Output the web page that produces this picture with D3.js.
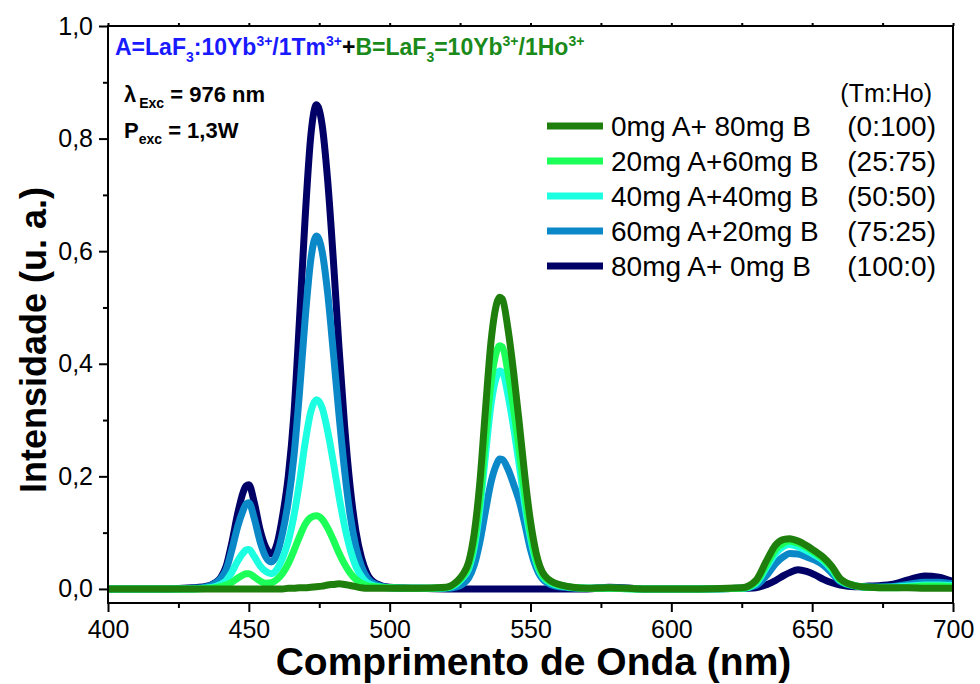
<!DOCTYPE html>
<html lang="pt">
<head>
<meta charset="UTF-8">
<title>Espectro de emissão</title>
<style>
  body { margin: 0; background: #fff; }
  svg { display: block; font-family: "Liberation Sans", Arial, sans-serif; }
</style>
</head>
<body>
<script src="https://cdn.jsdelivr.net/npm/d3@7"></script>
<svg id="chart" width="980" height="684"></svg>
<script>
// wavelength grid (nm) shared by every spectrum
const wavelengths = [
  400, 420, 430, 436, 438, 440, 442, 444, 446, 448,
  449, 450, 452, 454, 456, 458, 460, 462, 464, 466,
  468, 470, 472, 474, 476, 478, 480, 482, 484, 486,
  488, 490, 492, 495, 500, 510, 520, 524, 526, 528,
  530, 532, 534, 536, 538, 539, 540, 542, 544, 546,
  548, 550, 552, 555, 560, 570, 578, 590, 610, 625,
  630, 634, 637, 640, 642, 645, 648, 651, 654, 657,
  660, 665, 670, 678, 684, 690, 695, 700
];

// intensities, one array per sample
const mix0A80B = [
  0, 0, 0, 0, 0, 0, 0, 0, 0, 0,
  0, 0, 0, 0, 0, 0, 0, 0, 0.001, 0.001,
  0.002, 0.002, 0.003, 0.004, 0.005, 0.007, 0.008, 0.009, 0.008, 0.006,
  0.004, 0.002, 0.001, 0.001, 0.001, 0.001, 0.003, 0.014, 0.026, 0.047,
  0.098, 0.188, 0.318, 0.44, 0.507, 0.518, 0.515, 0.462, 0.385, 0.295,
  0.2, 0.12, 0.064, 0.024, 0.008, 0.001, 0.002, 0, 0, 0.002,
  0.015, 0.052, 0.078, 0.088, 0.089, 0.085, 0.077, 0.067, 0.056, 0.04,
  0.018, 0.006, 0.003, 0.002, 0.002, 0.001, 0.001, 0.001
];
const mix20A60B = [
  0, 0, 0, 0.001, 0.002, 0.004, 0.007, 0.012, 0.019, 0.025,
  0.027, 0.027, 0.021, 0.014, 0.01, 0.011, 0.017, 0.028, 0.045, 0.068,
  0.093, 0.115, 0.127, 0.13, 0.124, 0.108, 0.087, 0.064, 0.044, 0.028,
  0.017, 0.01, 0.006, 0.004, 0.002, 0.001, 0.002, 0.012, 0.022, 0.04,
  0.082, 0.157, 0.265, 0.367, 0.423, 0.432, 0.43, 0.385, 0.321, 0.246,
  0.167, 0.1, 0.053, 0.02, 0.007, 0.001, 0.001, 0, 0, 0.001,
  0.012, 0.045, 0.07, 0.082, 0.085, 0.081, 0.074, 0.064, 0.053, 0.037,
  0.016, 0.006, 0.003, 0.002, 0.003, 0.005, 0.005, 0.004
];
const mix40A40B = [
  0, 0, 0, 0.002, 0.004, 0.008, 0.015, 0.03, 0.049, 0.064,
  0.069, 0.07, 0.057, 0.041, 0.031, 0.027, 0.035, 0.055, 0.085, 0.13,
  0.19, 0.26, 0.315, 0.336, 0.322, 0.28, 0.225, 0.165, 0.112, 0.07,
  0.04, 0.022, 0.011, 0.005, 0.002, 0.001, 0.002, 0.01, 0.02, 0.035,
  0.073, 0.14, 0.237, 0.328, 0.378, 0.387, 0.385, 0.345, 0.287, 0.22,
  0.149, 0.09, 0.048, 0.018, 0.006, 0.001, 0.001, 0, 0, 0.001,
  0.01, 0.04, 0.063, 0.076, 0.079, 0.075, 0.068, 0.06, 0.05, 0.034,
  0.015, 0.006, 0.003, 0.003, 0.005, 0.007, 0.007, 0.006
];
const mix60A20B = [
  0, 0, 0.001, 0.005, 0.01, 0.018, 0.035, 0.07, 0.11, 0.14,
  0.151, 0.153, 0.124, 0.084, 0.057, 0.048, 0.062, 0.1, 0.155, 0.235,
  0.35, 0.48, 0.585, 0.627, 0.6, 0.525, 0.42, 0.31, 0.21, 0.13,
  0.075, 0.04, 0.02, 0.008, 0.002, 0.001, 0.001, 0.004, 0.009, 0.019,
  0.042, 0.083, 0.138, 0.19, 0.222, 0.231, 0.23, 0.213, 0.186, 0.156,
  0.115, 0.07, 0.038, 0.014, 0.004, 0.001, 0.002, 0, 0, 0.001,
  0.006, 0.025, 0.045, 0.058, 0.063, 0.062, 0.057, 0.051, 0.042, 0.028,
  0.013, 0.005, 0.003, 0.004, 0.008, 0.012, 0.012, 0.009
];
const mix80A0B = [
  0, 0, 0.002, 0.006, 0.011, 0.02, 0.041, 0.083, 0.133, 0.172,
  0.183, 0.185, 0.152, 0.105, 0.074, 0.062, 0.08, 0.13, 0.2, 0.31,
  0.48, 0.66, 0.805, 0.86, 0.825, 0.725, 0.585, 0.43, 0.29, 0.18,
  0.103, 0.055, 0.027, 0.01, 0.003, 0.001, 0, 0, 0, 0,
  0, 0, 0, 0, 0, 0, 0, 0, 0, 0,
  0, 0, 0, 0, 0, 0, 0.003, 0, 0, 0.001,
  0.002, 0.008, 0.015, 0.024, 0.029, 0.034, 0.031, 0.025, 0.017, 0.011,
  0.007, 0.004, 0.005, 0.008, 0.016, 0.023, 0.021, 0.013
];

const seriesLabels = ["0mg A+ 80mg B", "20mg A+60mg B", "40mg A+40mg B", "60mg A+20mg B", "80mg A+ 0mg B"];
const ratioLabels = ["(0:100)", "(25:75)", "(50:50)", "(75:25)", "(100:0)"];
const seriesValues = [mix0A80B, mix20A60B, mix40A40B, mix60A20B, mix80A0B];
const seriesColors = ["#1f7f0c", "#1cff58", "#1cffe0", "#0a88c8", "#000066"];

const xTicks = [400, 450, 500, 550, 600, 650, 700];
const xMinorTicks = [425, 475, 525, 575, 625, 675];
const yTicks = [0, 0.2, 0.4, 0.6, 0.8, 1.0];
const yMinorTicks = [0.1, 0.3, 0.5, 0.7, 0.9];

const svg = d3.select("#chart");
const plotL = 108, plotR = 953, plotT = 26, plotB = 603;

const x = d3.scaleLinear().domain([400, 700]).range([plotL, plotR]);
const y = d3.scaleLinear().domain([-0.025, 1]).range([plotB, plotT]);

const fmt = d => d3.format(".1f")(d).replace(".", ",");

// clip
svg.append("defs").append("clipPath").attr("id", "clip")
  .append("rect").attr("x", plotL).attr("y", plotT).attr("width", plotR - plotL).attr("height", plotB - plotT);

// spectra (navy first, dark green on top)
const series = seriesLabels.map((name, i) => ({
  name, color: seriesColors[i],
  points: wavelengths.map((w, j) => [w, seriesValues[i][j]])
}));

const line = d3.line()
  .x(d => x(d[0]))
  .y(d => y(d[1]))
  .curve(d3.curveMonotoneX);

svg.append("g").attr("clip-path", "url(#clip)")
  .selectAll("path")
  .data(series.slice().reverse())
  .join("path")
  .attr("fill", "none")
  .attr("stroke", d => d.color)
  .attr("stroke-width", 7)
  .attr("stroke-linejoin", "round")
  .attr("d", d => line(d.points));

// axes
const axisStyle = g => {
  g.select(".domain").remove();
  g.selectAll("line").attr("stroke", "#000").attr("stroke-width", 2);
  g.selectAll("text").attr("fill", "#000").attr("font-size", 25)
    .attr("font-family", "'Liberation Sans', Arial, sans-serif");
};

svg.append("g").attr("transform", `translate(0,${plotB})`)
  .call(d3.axisBottom(x).tickValues(xTicks).tickSize(9).tickPadding(8).tickFormat(d3.format("d")))
  .call(axisStyle);
svg.append("g").attr("transform", `translate(0,${plotB})`)
  .call(d3.axisBottom(x).tickValues(xMinorTicks).tickSize(5).tickFormat(""))
  .call(axisStyle);
svg.append("g").attr("transform", `translate(${plotL},0)`)
  .call(d3.axisLeft(y).tickValues(yTicks).tickSize(9).tickPadding(6).tickFormat(fmt))
  .call(axisStyle);
svg.append("g").attr("transform", `translate(${plotL},0)`)
  .call(d3.axisLeft(y).tickValues(yMinorTicks).tickSize(5).tickFormat(""))
  .call(axisStyle);
// small ticks on the top edge
svg.append("g").attr("transform", `translate(0,${plotT})`)
  .call(d3.axisTop(x).tickValues(xTicks.concat(xMinorTicks)).tickSize(3).tickFormat(""))
  .call(axisStyle);

// frame
svg.append("rect")
  .attr("x", plotL).attr("y", plotT)
  .attr("width", plotR - plotL).attr("height", plotB - plotT)
  .attr("fill", "none").attr("stroke", "#000").attr("stroke-width", 2);

// axis titles
svg.append("text")
  .attr("x", (plotL + plotR) / 2 + 3).attr("y", 675)
  .attr("text-anchor", "middle")
  .attr("font-size", 39).attr("font-weight", "bold")
  .text("Comprimento de Onda (nm)");

svg.append("text")
  .attr("transform", "translate(46,340) rotate(-90)")
  .attr("text-anchor", "middle")
  .attr("font-size", 36).attr("font-weight", "bold")
  .text("Intensidade (u. a.)");

// composition annotation
const blue = "#1a1aff", green = "#1a8a1a";
const ann = svg.append("text").attr("x", 115).attr("y", 55)
  .attr("font-size", 23).attr("font-weight", "bold");
const parts = [
  ["A=LaF", blue, 0], ["3", blue, 1], [":10Yb", blue, 0], ["3+", blue, 2], ["/1Tm", blue, 0], ["3+", blue, 2],
  ["+", "#000", 0],
  ["B=LaF", green, 0], ["3", green, 1], ["=10Yb", green, 0], ["3+", green, 2], ["/1Ho", green, 0], ["3+", green, 2]
];
let shift = 0;
parts.forEach(([t, c, kind]) => {
  const target = kind === 1 ? 7 : kind === 2 ? -9 : 0;
  ann.append("tspan")
    .attr("dy", target - shift)
    .attr("fill", c)
    .attr("font-size", kind ? 14 : 23)
    .text(t);
  shift = target;
});

const lam = svg.append("text").attr("x", 124).attr("y", 102)
  .attr("font-size", 22).attr("font-weight", "bold").attr("fill", "#000");
lam.append("tspan").text("λ");
lam.append("tspan").attr("dy", 6).attr("dx", 3).attr("font-size", 14).text("Exc");
lam.append("tspan").attr("dy", -6).text(" = 976 nm");

const pw = svg.append("text").attr("x", 124).attr("y", 138)
  .attr("font-size", 22).attr("font-weight", "bold").attr("fill", "#000");
pw.append("tspan").text("P");
pw.append("tspan").attr("dy", 6).attr("font-size", 14).text("exc");
pw.append("tspan").attr("dy", -6).text(" = 1,3W");

// legend
const legend = svg.append("g").attr("font-size", 28).attr("fill", "#000");
legend.append("text")
  .attr("x", 932).attr("y", 93).attr("dy", "0.35em")
  .attr("text-anchor", "end").attr("font-size", 25)
  .text("(Tm:Ho)");
const rows = legend.selectAll("g.row").data(series).join("g")
  .attr("class", "row")
  .attr("transform", (d, i) => `translate(0,${126 + i * 35})`);
rows.append("line")
  .attr("x1", 547).attr("x2", 603)
  .attr("stroke", d => d.color).attr("stroke-width", 7);
rows.append("text")
  .attr("x", 611).attr("dy", "0.35em")
  .text(d => d.name);
rows.append("text")
  .attr("x", 936).attr("dy", "0.35em").attr("text-anchor", "end")
  .text((d, i) => ratioLabels[i]);
</script>
</body>
</html>
